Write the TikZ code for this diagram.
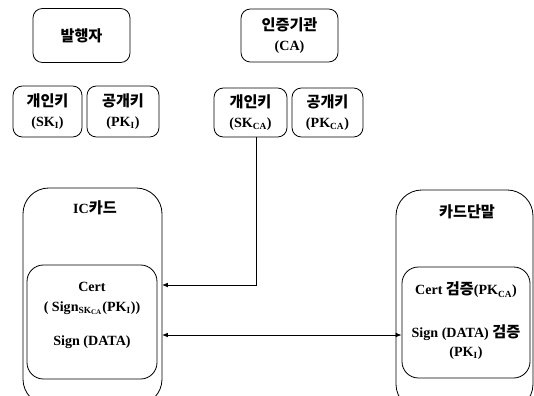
\documentclass[tikz,border=0pt]{standalone}
\usepackage{fontspec}
\setmainfont{Liberation Serif}
\newfontfamily\kr{Noto Sans CJK KR}[Scale=1.08]
\usetikzlibrary{positioning,arrows.meta}
\newcommand{\sub}[1]{\textsubscript{#1}}
\tikzset{
        x=0.03cm, y=-0.03cm, % one unit is one pixel of the scan
        box/.style={draw, line width=0.7pt, rounded corners=8, align=center, inner sep=0pt}, % small key boxes
        bigbox/.style={draw, line width=0.7pt, rounded corners=22, inner sep=0pt}, % card and terminal
        inbox/.style={draw, line width=0.7pt, rounded corners=14, inner sep=0pt}, % inner boxes
        txt/.style={inner sep=1pt, font=\bfseries\fontsize{12}{17}\selectfont},
        conn/.style={line width=0.7pt, -{Latex[length=5pt,width=4pt]}},
}
\begin{document}
\begin{tikzpicture}[font=\bfseries\fontsize{12}{17}\selectfont]
\useasboundingbox (0,0) rectangle (534,396);
\clip (0,0) rectangle (534,396);

% issuer and CA
\node[box, minimum width=97*0.03cm, minimum height=54*0.03cm] (issuer) at (81.5,35.5) {\kr 발행자};
\node[box, minimum width=97*0.03cm, minimum height=53*0.03cm] (ca) at (289.5,35.5) {{\kr 인증기관}\\(CA)};

% keys
\node[box, minimum width=69*0.03cm, minimum height=51*0.03cm] (skI) at (47.5,111.5) {{\kr 개인키}\\(SK\sub{I})};
\node[box, minimum width=72*0.03cm, minimum height=51*0.03cm] (pkI) at (123,111.5) {{\kr 공개키}\\(PK\sub{I})};
\node[box, minimum width=73*0.03cm, minimum height=49*0.03cm] (skCA) at (250.5,112.5) {{\kr 개인키}\\(SK\sub{CA})};
\node[box, minimum width=71*0.03cm, minimum height=49*0.03cm] (pkCA) at (327.5,112.5) {{\kr 공개키}\\(PK\sub{CA})};

% IC card
\node[bigbox, minimum width=139*0.03cm, minimum height=217*0.03cm] (iccard) at (92.5,296.5) {};
\node[txt] (icttl) at (95,208) {IC{\kr 카드}};
\node[inbox, minimum width=130*0.03cm, minimum height=114*0.03cm] (icin) at (92,322) {};
\node[txt] (certA) at (92,287) {Cert};
\node[txt] (signA) at (92,308) {( Sign\sub{SK\sub{CA}}(PK\sub{I}))};
\node[txt] (dataA) at (92,342) {Sign (DATA)};

% card terminal
\node[bigbox, minimum width=137*0.03cm, minimum height=220*0.03cm] (term) at (464.5,300) {};
\node[txt] (termttl) at (467,212) {\kr 카드단말};
\node[inbox, minimum width=128*0.03cm, minimum height=111*0.03cm] (termin) at (466,322.5) {};
\node[txt] (certB) at (466,290) {Cert {\kr 검증}(PK\sub{CA})};
\node[txt] (dataB) at (466,333) {Sign (DATA) {\kr 검증}};
\node[txt] (pkB) at (466,353) {(PK\sub{I})};

% connectors
\coordinate (certin) at (162,285);
\coordinate (signin) at (162,335);
\draw[conn] ([xshift=5.5*0.03cm]skCA.south) |- (certin);
\draw[conn, {Latex[length=5pt,width=4pt]}-{Latex[length=5pt,width=4pt]}] (signin) -- (termin.west |- signin);

\end{tikzpicture}
\end{document}
